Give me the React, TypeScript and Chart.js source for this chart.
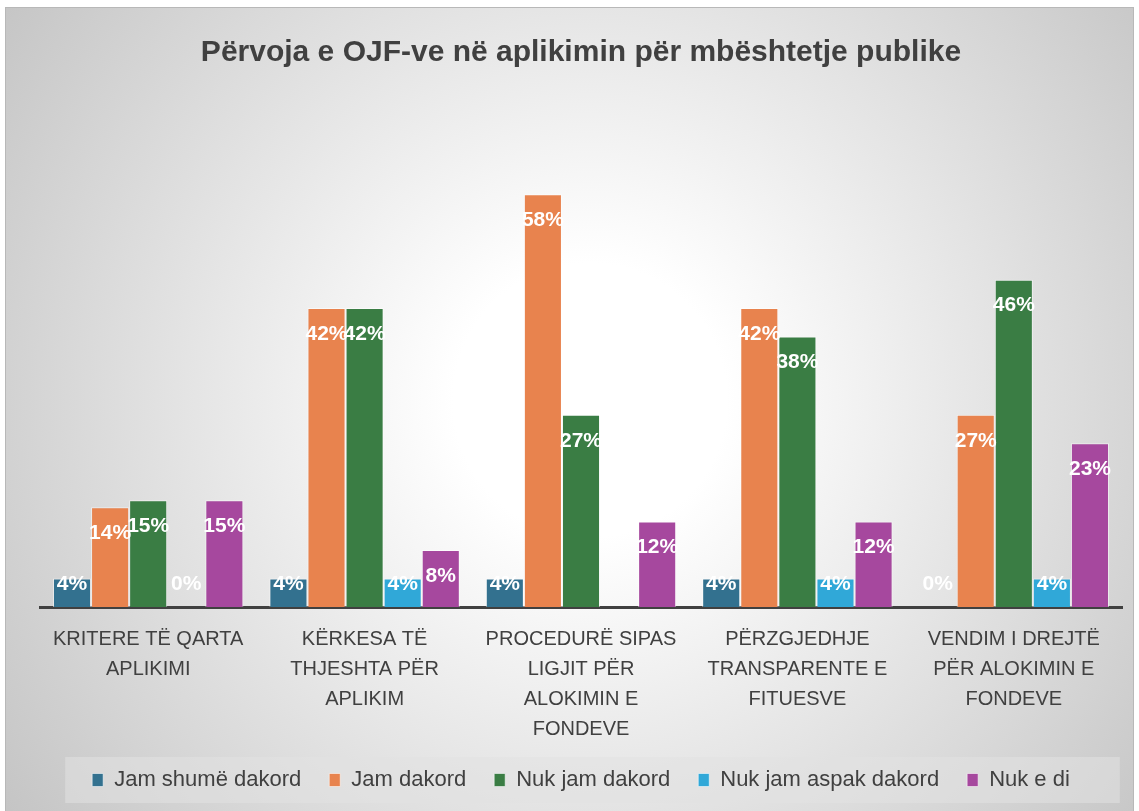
import React, { useEffect, useRef } from "react";
import { Chart, registerables } from "chart.js";

Chart.register(...registerables);

const TITLE = "Përvoja e OJF-ve në aplikimin për mbështetje publike";

const categories: string[][] = [
  ["KRITERE TË QARTA", "APLIKIMI"],
  ["KËRKESA TË", "THJESHTA PËR", "APLIKIM"],
  ["PROCEDURË SIPAS", "LIGJIT PËR", "ALOKIMIN E", "FONDEVE"],
  ["PËRZGJEDHJE", "TRANSPARENTE E", "FITUESVE"],
  ["VENDIM I DREJTË", "PËR ALOKIMIN E", "FONDEVE"],
];

const seriesNames = [
  "Jam shumë dakord",
  "Jam dakord",
  "Nuk jam dakord",
  "Nuk jam aspak dakord",
  "Nuk e di",
];

const jamShumeDakord: (number | null)[] = [4, 4, 4, 4, 0];
const jamDakord: (number | null)[] = [14, 42, 58, 42, 27];
const nukJamDakord: (number | null)[] = [15, 42, 27, 38, 46];
const nukJamAspakDakord: (number | null)[] = [0, 4, null, 4, 4];
const nukEDi: (number | null)[] = [15, 8, 12, 12, 23];

const seriesColors = ["#33718F", "#E8834E", "#3A7D44", "#30A8D8", "#A6489E"];

const TEXT = "#404040";
const FONT = "'Liberation Sans', Arial, sans-serif";

const backgroundPlugin = {
  id: "bgPlugin",
  beforeDraw(chart: any) {
    const { ctx, width, height } = chart;
    ctx.save();
    ctx.fillStyle = "#ffffff";
    ctx.fillRect(0, 0, width, height);
    const g = ctx.createRadialGradient(590, 400, 0, 590, 400, 760);
    g.addColorStop(0, "#ffffff");
    g.addColorStop(0.18, "#ffffff");
    g.addColorStop(1, "#c0c0c0");
    ctx.fillStyle = g;
    ctx.fillRect(5, 7, width - 10, height - 7);
    ctx.strokeStyle = "#b8b8b8";
    ctx.lineWidth = 1;
    ctx.strokeRect(5.5, 7.5, width - 11, height);
    const legend = chart.legend;
    if (legend && legend.legendHitBoxes && legend.legendHitBoxes.length) {
      const boxes = legend.legendHitBoxes;
      let minL = Infinity, maxR = -Infinity, minT = Infinity, maxB = -Infinity;
      boxes.forEach((b: any) => {
        minL = Math.min(minL, b.left);
        maxR = Math.max(maxR, b.left + b.width);
        minT = Math.min(minT, b.top);
        maxB = Math.max(maxB, b.top + b.height);
      });
      ctx.fillStyle = "rgba(225,225,225,0.55)";
      ctx.fillRect(minL - 27, minT - 12, maxR - minL + 77, maxB - minT + 24);
    }
    ctx.restore();
  },
};

const labelPlugin = {
  id: "valueLabels",
  afterDatasetsDraw(chart: any) {
    const { ctx } = chart;
    const yScale = chart.scales.y;
    const base = yScale.getPixelForValue(0);
    ctx.save();
    ctx.font = `bold 21px ${FONT}`;
    ctx.fillStyle = "#ffffff";
    ctx.textAlign = "center";
    ctx.textBaseline = "middle";
    chart.data.datasets.forEach((ds: any, di: number) => {
      const meta = chart.getDatasetMeta(di);
      meta.data.forEach((el: any, i: number) => {
        const v = ds.data[i];
        if (v === null || v === undefined) return;
        const y = Math.min(el.y + 26, base - 23);
        ctx.fillText(`${v}%`, el.x, y);
      });
    });
    ctx.restore();
  },
};

export default function App() {
  const ref = useRef<HTMLCanvasElement | null>(null);

  useEffect(() => {
    if (!ref.current) return;
    const allData = [jamShumeDakord, jamDakord, nukJamDakord, nukJamAspakDakord, nukEDi];
    const chart = new Chart(ref.current, {
      type: "bar",
      data: {
        labels: categories as any,
        datasets: allData.map((d, i) => ({
          label: seriesNames[i],
          data: d as any,
          backgroundColor: seriesColors[i],
          borderColor: "rgba(255,255,255,0.55)",
          borderWidth: 1,
          categoryPercentage: 0.88,
          barPercentage: 1.0,
        })),
      },
      options: {
        responsive: false,
        animation: false,
        layout: { padding: { left: 40, right: 17, top: 0, bottom: 10 } },
        scales: {
          x: {
            grid: { display: false },
            border: { display: true, color: "#404040", width: 3 },
            ticks: {
              color: TEXT,
              font: { family: FONT, size: 20, lineHeight: 1.5 },
              padding: 9,
              maxRotation: 0,
              autoSkip: false,
            },
            afterFit(scale: any) {
              scale.height -= 12;
            },
          },
          y: { display: false, min: 0, max: 60 },
        },
        plugins: {
          title: {
            display: true,
            text: TITLE,
            color: TEXT,
            font: { family: FONT, size: 30, weight: "bold" },
            padding: { top: 35, bottom: 109 },
          },
          legend: {
            display: true,
            position: "bottom",
            labels: {
              color: TEXT,
              font: { family: FONT, size: 22 },
              boxWidth: 11,
              boxHeight: 13,
              padding: 28,
            },
          },
          tooltip: { enabled: false },
        },
      },
      plugins: [backgroundPlugin, labelPlugin],
    });
    return () => chart.destroy();
  }, []);

  return (
    <div style={{ position: "absolute", left: 0, top: 0, width: 1139, height: 811 }}>
      <canvas ref={ref} width={1139} height={811} style={{ width: 1139, height: 811, display: "block" }} />
    </div>
  );
}
